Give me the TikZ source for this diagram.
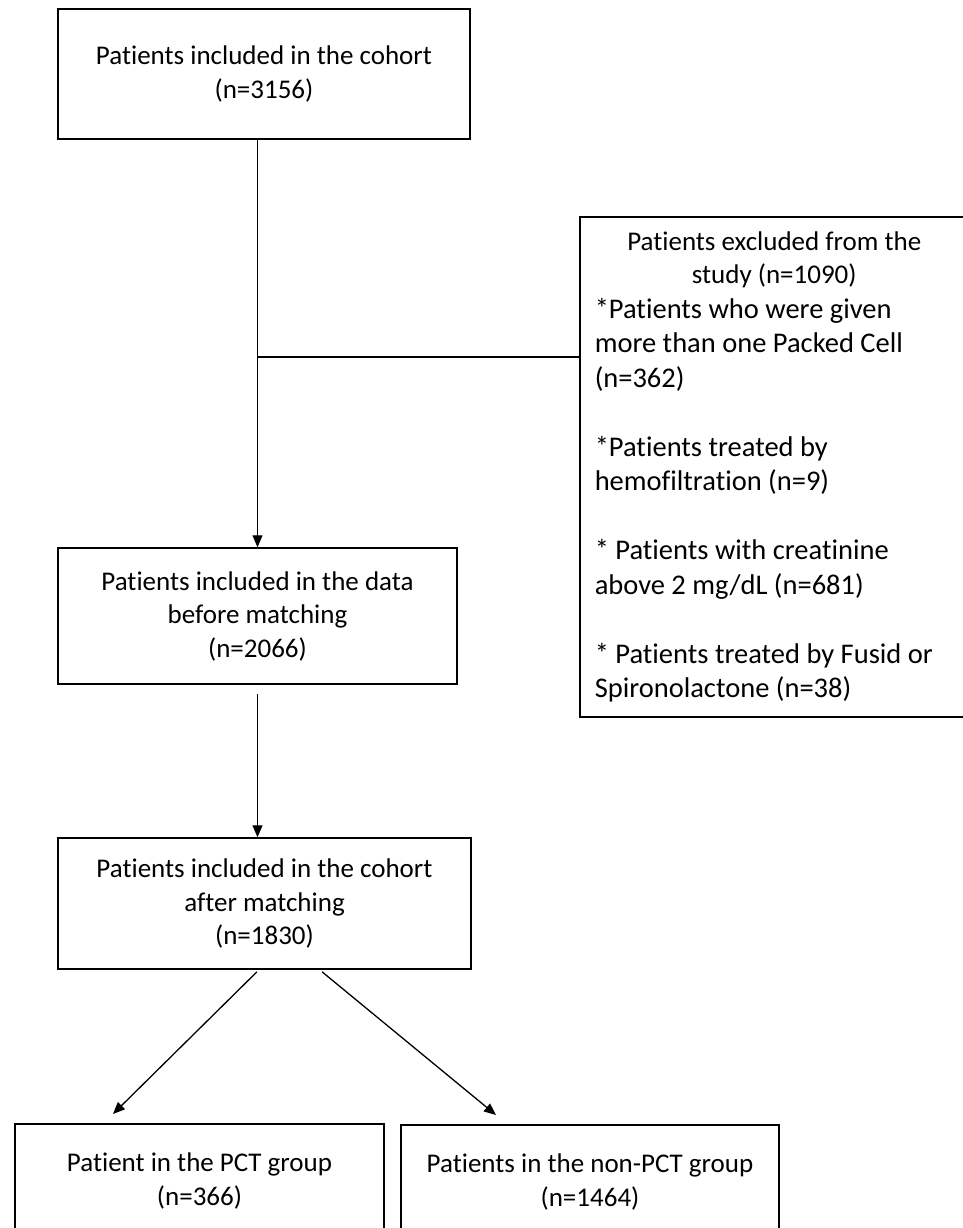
\documentclass[tikz,border=0pt]{standalone}
\usepackage{fontspec}
\setmainfont{Carlito}[RawFeature={-liga;-calt;-clig;-dlig}]
\usetikzlibrary{arrows.meta}
\begin{document}
\begin{tikzpicture}[x=1pt,y=1pt,
  flowbox/.style={draw, line width=1.5pt, align=center, inner sep=0pt,
    font=\fontsize{27}{33.5}\selectfont},
  conn/.style={line width=1.3pt},
  arr/.style={conn, -{Triangle[length=12pt,width=10pt]}}]
\useasboundingbox (0,0) rectangle (963,-1228);
\node[flowbox, minimum width=412pt, minimum height=130pt] (top) at (264,-74)
  {Patients included in the cohort\\(n=3156)};
\node[flowbox, minimum width=399pt, minimum height=136pt] (mid) at (257.5,-616)
  {Patients included in the data\\before matching\\(n=2066)};
\node[flowbox, minimum width=413pt, minimum height=131pt] (third) at (264.5,-903.5)
  {Patients included in the cohort\\after matching\\(n=1830)};
\node[flowbox, minimum width=369pt, minimum height=114pt, anchor=north] (pctL) at (199.5,-1123)
  {Patient in the PCT group\\(n=366)};
\node[flowbox, minimum width=378pt, minimum height=114pt, anchor=north] (pctR) at (590,-1124)
  {Patients in the non-PCT group\\(n=1464)};
\node[draw, line width=1.5pt, anchor=west, text width=359pt, inner xsep=15pt,
  minimum height=500pt] (excl) at (579,-467)
  {\spaceskip=0pt\xspaceskip=0pt
   \centering\fontsize{27}{33}\selectfont Patients excluded from the\\study (n=1090)\par
   \raggedright\fontsize{28.5}{34.5}\selectfont
   *Patients who were given\\more than one Packed Cell\\(n=362)\\[34.5pt]
   *Patients treated by\\hemofiltration (n=9)\\[34.5pt]
   * Patients with creatinine\\above 2 mg/dL (n=681)\\[34.5pt]
   * Patients treated by Fusid or\\Spironolactone (n=38)\par};
\coordinate (j) at (257.5,-357);
\draw[arr] (top.south -| mid.north) -- (mid.north);
\draw[conn] (j) -- (j -| excl.west);
\draw[arr] ([yshift=-9pt]mid.south) -- (third.north -| mid.south);
\draw[arr] ([shift={(-7.5,-2)}]third.south) -- ([shift={(-86.5,9)}]pctL.north);
\draw[arr] ([shift={(57.5,-2)}]third.south) -- ([shift={(-94,9)}]pctR.north);
\end{tikzpicture}
\end{document}
